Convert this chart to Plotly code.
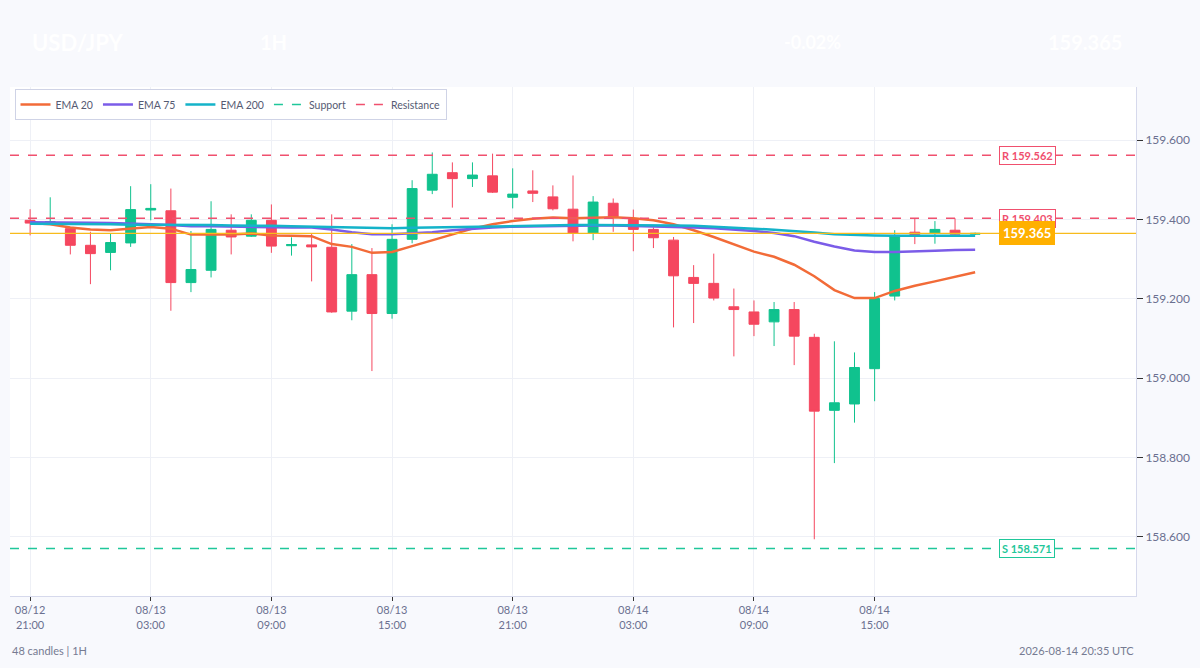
import pandas as pd
import plotly.graph_objects as go

# hourly candles, 2026-08-12 21:00 -> 2026-08-14 20:00 (UTC)
times = pd.date_range('2026-08-12 21:00', periods=48, freq='h')

opens = [159.398, 159.391, 159.377, 159.335, 159.317, 159.341, 159.424, 159.422,
         159.241, 159.272, 159.373, 159.358, 159.398, 159.334, 159.336, 159.330,
         159.169, 159.261, 159.163, 159.350, 159.474, 159.518, 159.503, 159.510,
         159.456, 159.472, 159.457, 159.426, 159.366, 159.441, 159.400, 159.375,
         159.348, 159.254, 159.239, 159.180, 159.167, 159.142, 159.173, 159.103,
         158.919, 158.935, 159.024, 159.207, 159.368, 159.365, 159.373, 159.363]
highs = [159.426, 159.456, 159.380, 159.369, 159.365, 159.484, 159.489, 159.478,
         159.371, 159.446, 159.413, 159.413, 159.438, 159.355, 159.365, 159.413,
         159.338, 159.328, 159.388, 159.499, 159.569, 159.544, 159.544, 159.566,
         159.529, 159.524, 159.486, 159.511, 159.459, 159.453, 159.425, 159.380,
         159.356, 159.285, 159.314, 159.226, 159.196, 159.192, 159.192, 159.112,
         159.093, 159.065, 159.217, 159.373, 159.403, 159.396, 159.403, 159.367]
lows = [159.360, 159.389, 159.312, 159.237, 159.272, 159.331, 159.398, 159.170,
        159.217, 159.254, 159.312, 159.356, 159.316, 159.309, 159.244, 159.165,
        159.146, 159.018, 159.150, 159.340, 159.464, 159.430, 159.482, 159.467,
        159.428, 159.444, 159.423, 159.345, 159.348, 159.369, 159.320, 159.328,
        159.128, 159.139, 159.196, 159.055, 159.106, 159.081, 159.033, 158.594,
        158.786, 158.888, 158.942, 159.196, 159.338, 159.339, 159.362, 159.361]
closes = [159.391, 159.395, 159.335, 159.314, 159.342, 159.425, 159.428, 159.241,
          159.274, 159.375, 159.356, 159.398, 159.333, 159.337, 159.331, 159.167,
          159.261, 159.163, 159.350, 159.478, 159.514, 159.503, 159.512, 159.469,
          159.464, 159.466, 159.427, 159.366, 159.444, 159.407, 159.375, 159.354,
          159.258, 159.239, 159.202, 159.173, 159.136, 159.173, 159.106, 158.917,
          158.938, 159.027, 159.201, 159.360, 159.362, 159.375, 159.363, 159.365]

ema20 = [159.391, 159.388, 159.380, 159.375, 159.373, 159.377, 159.381, 159.377,
         159.362, 159.362, 159.362, 159.365, 159.360, 159.359, 159.358, 159.338,
         159.331, 159.316, 159.318, 159.333, 159.348, 159.363, 159.377, 159.388,
         159.396, 159.402, 159.405, 159.403, 159.405, 159.406, 159.403, 159.398,
         159.388, 159.373, 159.356, 159.338, 159.319, 159.306, 159.286, 159.257,
         159.222, 159.202, 159.202, 159.220, 159.233, 159.244, 159.255, 159.267]
ema75 = [159.393, 159.393, 159.392, 159.392, 159.391, 159.390, 159.388, 159.386,
         159.383, 159.383, 159.382, 159.381, 159.380, 159.380, 159.380, 159.375,
         159.368, 159.363, 159.363, 159.365, 159.368, 159.373, 159.377, 159.380,
         159.382, 159.383, 159.384, 159.384, 159.385, 159.385, 159.384, 159.383,
         159.382, 159.380, 159.378, 159.375, 159.371, 159.366, 159.358, 159.344,
         159.332, 159.322, 159.318, 159.318, 159.319, 159.321, 159.323, 159.324]
ema200 = [159.389, 159.389, 159.388, 159.388, 159.388, 159.387, 159.387, 159.387,
          159.386, 159.386, 159.385, 159.385, 159.384, 159.383, 159.382, 159.381,
          159.380, 159.379, 159.378, 159.379, 159.380, 159.381, 159.382, 159.383,
          159.384, 159.385, 159.385, 159.386, 159.386, 159.386, 159.386, 159.385,
          159.385, 159.384, 159.382, 159.380, 159.377, 159.374, 159.371, 159.367,
          159.363, 159.361, 159.360, 159.359, 159.359, 159.359, 159.359, 159.359]

support = [158.571]
resistance = [159.562, 159.403]
last_price = 159.365

tick_times = ['2026-08-12 21:00', '2026-08-13 03:00', '2026-08-13 09:00', '2026-08-13 15:00',
              '2026-08-13 21:00', '2026-08-14 03:00', '2026-08-14 09:00', '2026-08-14 15:00']
tick_text = ['08/12<br>21:00', '08/13<br>03:00', '08/13<br>09:00', '08/13<br>15:00',
             '08/13<br>21:00', '08/14<br>03:00', '08/14<br>09:00', '08/14<br>15:00']

x_range = ['2026-08-12 20:00', '2026-08-15 04:00']
y_range = [158.451, 159.734]

GREEN = '#10c28e'
RED = '#f5475f'
RES_COL = '#f0506e'
SUP_COL = '#1fc79a'
FONT = 'Lato'
BG = '#f8f9fd'

fig = go.Figure()

fig.add_trace(go.Candlestick(
    x=times, open=opens, high=highs, low=lows, close=closes,
    increasing=dict(line=dict(color=GREEN, width=1), fillcolor=GREEN),
    decreasing=dict(line=dict(color=RED, width=1), fillcolor=RED),
    showlegend=False, name='USD/JPY'))

fig.add_trace(go.Scatter(x=times, y=ema20, mode='lines', name='EMA 20',
                         line=dict(color='#f26b38', width=2.5)))
fig.add_trace(go.Scatter(x=times, y=ema75, mode='lines', name='EMA 75',
                         line=dict(color='#7b5ce8', width=2.5)))
fig.add_trace(go.Scatter(x=times, y=ema200, mode='lines', name='EMA 200',
                         line=dict(color='#14b3c9', width=2.5)))

# support / resistance levels as dashed lines spanning the axis range
sx, sy = [], []
for lvl in support:
    sx += [x_range[0], x_range[1], None]
    sy += [lvl, lvl, None]
fig.add_trace(go.Scatter(x=sx, y=sy, mode='lines', name='Support',
                         line=dict(color=SUP_COL, width=1.5, dash='dash')))
rx, ry = [], []
for lvl in resistance:
    rx += [x_range[0], x_range[1], None]
    ry += [lvl, lvl, None]
fig.add_trace(go.Scatter(x=rx, y=ry, mode='lines', name='Resistance',
                         line=dict(color=RES_COL, width=1.5, dash='dash')))

# current price line
fig.add_shape(type='line', xref='paper', x0=0, x1=1, yref='y', y0=last_price, y1=last_price,
              line=dict(color='#f7bb1c', width=1.2))

LABEL_X = 0.9035
for lvl in resistance:
    fig.add_annotation(x=LABEL_X, xref='paper', y=lvl, yref='y', text='<b>R %.3f</b>' % lvl,
                       showarrow=False, xanchor='center', yanchor='middle',
                       font=dict(family=FONT, size=11, color=RES_COL),
                       bgcolor='white', bordercolor=RES_COL, borderwidth=1, borderpad=2)
for lvl in support:
    fig.add_annotation(x=LABEL_X, xref='paper', y=lvl, yref='y', text='<b>S %.3f</b>' % lvl,
                       showarrow=False, xanchor='center', yanchor='middle',
                       font=dict(family=FONT, size=11, color=SUP_COL),
                       bgcolor='white', bordercolor=SUP_COL, borderwidth=1, borderpad=2)
fig.add_annotation(x=LABEL_X, xref='paper', y=last_price, yref='y',
                   text='<b>%.3f</b>' % last_price, showarrow=False,
                   xanchor='center', yanchor='middle',
                   font=dict(family=FONT, size=13, color='white'),
                   bgcolor='#ffb000', bordercolor='#ffb000', borderwidth=1, borderpad=3)

# header (white on light background)
for txt, xp, sz in [('<b>USD/JPY</b>', 0.018, 22), ('<b>1H</b>', 0.22, 20),
                    ('<b>-0.02%</b>', 0.686, 18), ('<b>%.3f</b>' % last_price, 0.92, 20)]:
    fig.add_annotation(x=xp, xref='paper', y=1.088, yref='paper', text=txt, showarrow=False,
                       xanchor='left', yanchor='middle',
                       font=dict(family=FONT, size=sz, color='white'))

# footer
fig.add_annotation(x=0, xref='paper', y=-0.108, yref='paper', text='48 candles | 1H',
                   showarrow=False, xanchor='left', yanchor='middle',
                   font=dict(family=FONT, size=11, color='#767b92'))
fig.add_annotation(x=1, xref='paper', y=-0.108, yref='paper', text='2026-08-14 20:35 UTC',
                   showarrow=False, xanchor='right', yanchor='middle',
                   font=dict(family=FONT, size=11, color='#767b92'))

fig.update_layout(
    width=1200, height=668,
    margin=dict(l=10, r=60, t=87, b=72),
    paper_bgcolor=BG, plot_bgcolor='white',
    font=dict(family=FONT, size=11, color='#6b7090'),
    showlegend=True,
    legend=dict(orientation='h', x=0.004, y=0.996, xanchor='left', yanchor='top',
                bgcolor='white', bordercolor='#cfd3e6', borderwidth=1, itemwidth=30,
                font=dict(family=FONT, size=10.5, color='#555a72')),
    xaxis=dict(type='date', range=x_range, rangeslider=dict(visible=False),
               tickmode='array', tickvals=tick_times, ticktext=tick_text,
               showgrid=True, gridcolor='#eef0f6', ticks='outside', ticklen=4,
               tickcolor='#333', showline=True, linecolor='#d6d9ec', linewidth=1,
               zeroline=False),
    yaxis=dict(side='right', range=y_range, dtick=0.2, tickformat='.3f',
               showgrid=True, gridcolor='#eef0f6', ticks='outside', ticklen=6,
               tickcolor='#333', showline=True, linecolor='#d6d9ec', linewidth=1,
               zeroline=False, tickfont=dict(size=12)),
)

fig.write_html("out.html", config={'displayModeBar': False},
               post_script="document.body.style.margin='0';"
                           "document.body.style.overflow='hidden';"
                           "document.body.style.background='%s';" % BG)
